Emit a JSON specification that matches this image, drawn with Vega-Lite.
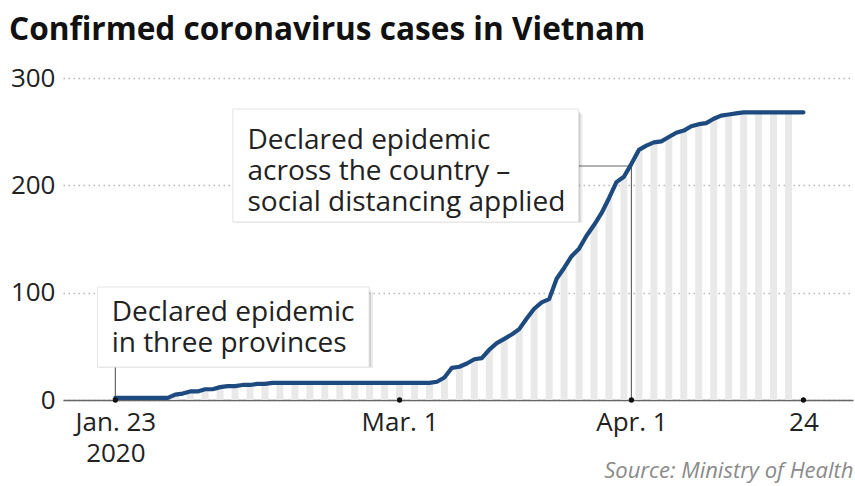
{
  "$schema": "https://vega.github.io/schema/vega-lite/v6.json",
  "width": 790,
  "height": 322,
  "padding": {"left": 5, "top": 15, "right": 2, "bottom": 12},
  "config": {
    "font": "Open Sans",
    "view": {"stroke": null},
    "axis": {"labelFont": "Open Sans", "titleFont": "Open Sans"}
  },
  "title": {
    "text": "Confirmed coronavirus cases in Vietnam",
    "anchor": "start",
    "frame": "bounds",
    "font": "Open Sans",
    "fontSize": 31.6,
    "fontWeight": "bold",
    "color": "#111111",
    "offset": 18,
    "dx": 4
  },
  "datasets": {
    "cases": [
      {"date": "2020/01/23", "value": 2}, {"date": "2020/01/24", "value": 2}, {"date": "2020/01/25", "value": 2},
      {"date": "2020/01/26", "value": 2}, {"date": "2020/01/27", "value": 2}, {"date": "2020/01/28", "value": 2},
      {"date": "2020/01/29", "value": 2}, {"date": "2020/01/30", "value": 2}, {"date": "2020/01/31", "value": 5},
      {"date": "2020/02/01", "value": 6}, {"date": "2020/02/02", "value": 8}, {"date": "2020/02/03", "value": 8},
      {"date": "2020/02/04", "value": 10}, {"date": "2020/02/05", "value": 10}, {"date": "2020/02/06", "value": 12},
      {"date": "2020/02/07", "value": 13}, {"date": "2020/02/08", "value": 13}, {"date": "2020/02/09", "value": 14},
      {"date": "2020/02/10", "value": 14}, {"date": "2020/02/11", "value": 15}, {"date": "2020/02/12", "value": 15},
      {"date": "2020/02/13", "value": 16}, {"date": "2020/02/14", "value": 16}, {"date": "2020/02/15", "value": 16},
      {"date": "2020/02/16", "value": 16}, {"date": "2020/02/17", "value": 16}, {"date": "2020/02/18", "value": 16},
      {"date": "2020/02/19", "value": 16}, {"date": "2020/02/20", "value": 16}, {"date": "2020/02/21", "value": 16},
      {"date": "2020/02/22", "value": 16}, {"date": "2020/02/23", "value": 16}, {"date": "2020/02/24", "value": 16},
      {"date": "2020/02/25", "value": 16}, {"date": "2020/02/26", "value": 16}, {"date": "2020/02/27", "value": 16},
      {"date": "2020/02/28", "value": 16}, {"date": "2020/02/29", "value": 16}, {"date": "2020/03/01", "value": 16},
      {"date": "2020/03/02", "value": 16}, {"date": "2020/03/03", "value": 16}, {"date": "2020/03/04", "value": 16},
      {"date": "2020/03/05", "value": 16}, {"date": "2020/03/06", "value": 17}, {"date": "2020/03/07", "value": 21},
      {"date": "2020/03/08", "value": 30}, {"date": "2020/03/09", "value": 31}, {"date": "2020/03/10", "value": 34},
      {"date": "2020/03/11", "value": 38}, {"date": "2020/03/12", "value": 39}, {"date": "2020/03/13", "value": 47},
      {"date": "2020/03/14", "value": 53}, {"date": "2020/03/15", "value": 57}, {"date": "2020/03/16", "value": 61},
      {"date": "2020/03/17", "value": 66}, {"date": "2020/03/18", "value": 76}, {"date": "2020/03/19", "value": 85},
      {"date": "2020/03/20", "value": 91}, {"date": "2020/03/21", "value": 94}, {"date": "2020/03/22", "value": 113},
      {"date": "2020/03/23", "value": 123}, {"date": "2020/03/24", "value": 134}, {"date": "2020/03/25", "value": 141},
      {"date": "2020/03/26", "value": 153}, {"date": "2020/03/27", "value": 163}, {"date": "2020/03/28", "value": 174},
      {"date": "2020/03/29", "value": 188}, {"date": "2020/03/30", "value": 203}, {"date": "2020/03/31", "value": 208},
      {"date": "2020/04/01", "value": 220}, {"date": "2020/04/02", "value": 233}, {"date": "2020/04/03", "value": 237},
      {"date": "2020/04/04", "value": 240}, {"date": "2020/04/05", "value": 241}, {"date": "2020/04/06", "value": 245},
      {"date": "2020/04/07", "value": 249}, {"date": "2020/04/08", "value": 251}, {"date": "2020/04/09", "value": 255},
      {"date": "2020/04/10", "value": 257}, {"date": "2020/04/11", "value": 258}, {"date": "2020/04/12", "value": 262},
      {"date": "2020/04/13", "value": 265}, {"date": "2020/04/14", "value": 266}, {"date": "2020/04/15", "value": 267},
      {"date": "2020/04/16", "value": 268}, {"date": "2020/04/17", "value": 268}, {"date": "2020/04/18", "value": 268},
      {"date": "2020/04/19", "value": 268}, {"date": "2020/04/20", "value": 268}, {"date": "2020/04/21", "value": 268},
      {"date": "2020/04/22", "value": 268}, {"date": "2020/04/23", "value": 268}, {"date": "2020/04/24", "value": 268}
    ],
    "leaders": [
      {"date": "2020/01/23", "date2": "2020/01/23", "value": 0, "value2": 30.7},
      {"date": "2020/04/01", "date2": "2020/04/01", "value": 0, "value2": 218},
      {"date": "2020/03/24 22:00", "date2": "2020/04/01", "value": 218, "value2": 218}
    ],
    "boxes": [
      {"date": "2020/01/20 15:00", "date2": "2020/02/25 22:00", "value": 30.7, "value2": 105.3},
      {"date": "2020/02/07 17:00", "date2": "2020/03/24 22:00", "value": 165.8, "value2": 271.1}
    ],
    "notes": [
      {"date": "2020/01/22 12:00", "value": 94.2, "label": "Declared epidemic\nin three provinces"},
      {"date": "2020/02/09 16:00", "value": 254.5, "label": "Declared epidemic\nacross the country –\nsocial distancing applied"}
    ],
    "ticks": [
      {"date": "2020/01/23", "value": 0}, {"date": "2020/03/01", "value": 0},
      {"date": "2020/04/01", "value": 0}, {"date": "2020/04/24", "value": 0}
    ]
  },
  "layer": [
    {
      "data": {"name": "cases"},
      "transform": [
        {"filter": "round((toDate(datum.date) - toDate('2020/01/23')) / 864e5) % 2 == 0 && toDate(datum.date) < toDate('2020/04/23')"}
      ],
      "mark": {"type": "bar", "color": "#e9e9e9", "width": 7},
      "encoding": {
        "x": {
          "field": "date", "type": "temporal",
          "scale": {"domain": [{"year": 2020, "month": 1, "date": 16, "hours": 16}, {"year": 2020, "month": 4, "date": 29, "hours": 23}]},
          "axis": {
            "values": [
              {"year": 2020, "month": 1, "date": 23},
              {"year": 2020, "month": 3, "date": 1},
              {"year": 2020, "month": 4, "date": 1},
              {"year": 2020, "month": 4, "date": 24}
            ],
            "labelExpr": "month(datum.value) == 0 ? ['Jan. 23', '2020'] : month(datum.value) == 2 ? 'Mar. 1' : date(datum.value) == 1 ? 'Apr. 1' : '24'",
            "ticks": false,
            "grid": false,
            "domainColor": "#666666",
            "domainWidth": 1.5,
            "labelFontSize": 26,
            "labelColor": "#222222",
            "labelPadding": 9,
            "labelLineHeight": 31,
            "labelFlush": false,
            "labelOverlap": false,
            "title": "Source: Ministry of Health",
            "titleAnchor": "end",
            "titleAlign": "right",
            "titleBaseline": "alphabetic",
            "titleY": 77,
            "titleFontSize": 22,
            "titleFontStyle": "italic",
            "titleFontWeight": "normal",
            "titleColor": "#8a8a8a"
          }
        },
        "y": {
          "field": "value", "type": "quantitative",
          "scale": {"domain": [0, 300], "nice": false},
          "axis": {
            "values": [0, 100, 200, 300],
            "title": null,
            "domain": false,
            "ticks": false,
            "grid": true,
            "gridDash": [1.5, 3.5],
            "gridColor": "#b8b8b8",
            "gridWidth": 1.5,
            "labelFontSize": 26,
            "labelColor": "#222222",
            "labelPadding": 8,
            "minExtent": 58,
            "maxExtent": 58
          }
        }
      }
    },
    {
      "data": {"name": "leaders"},
      "mark": {"type": "rule", "color": "#666666", "strokeWidth": 1.2},
      "encoding": {
        "x": {"field": "date", "type": "temporal"},
        "x2": {"field": "date2"},
        "y": {"field": "value", "type": "quantitative"},
        "y2": {"field": "value2"}
      }
    },
    {
      "data": {"name": "cases"},
      "mark": {"type": "line", "color": "#1d4a7f", "strokeWidth": 4.2, "strokeJoin": "round", "strokeCap": "round"},
      "encoding": {
        "x": {"field": "date", "type": "temporal"},
        "y": {"field": "value", "type": "quantitative"}
      }
    },
    {
      "data": {"name": "boxes"},
      "mark": {"type": "rect", "color": "#000000", "opacity": 0.08, "xOffset": 1, "x2Offset": 4, "yOffset": 1, "y2Offset": 5},
      "encoding": {
        "x": {"field": "date", "type": "temporal"},
        "x2": {"field": "date2"},
        "y": {"field": "value", "type": "quantitative"},
        "y2": {"field": "value2"}
      }
    },
    {
      "data": {"name": "boxes"},
      "mark": {"type": "rect", "color": "#000000", "opacity": 0.12, "xOffset": 0, "x2Offset": 2, "yOffset": 0, "y2Offset": 3},
      "encoding": {
        "x": {"field": "date", "type": "temporal"},
        "x2": {"field": "date2"},
        "y": {"field": "value", "type": "quantitative"},
        "y2": {"field": "value2"}
      }
    },
    {
      "data": {"name": "boxes"},
      "mark": {"type": "rect", "fill": "#ffffff", "stroke": "#e4e4e4", "strokeWidth": 1},
      "encoding": {
        "x": {"field": "date", "type": "temporal"},
        "x2": {"field": "date2"},
        "y": {"field": "value", "type": "quantitative"},
        "y2": {"field": "value2"}
      }
    },
    {
      "data": {"name": "notes"},
      "mark": {"type": "text", "align": "left", "baseline": "top", "fontSize": 28, "lineHeight": 31, "lineBreak": "\n", "color": "#222222", "font": "Open Sans"},
      "encoding": {
        "x": {"field": "date", "type": "temporal"},
        "y": {"field": "value", "type": "quantitative"},
        "text": {"field": "label", "type": "nominal"}
      }
    },
    {
      "data": {"name": "ticks"},
      "mark": {"type": "point", "filled": true, "color": "#111111", "size": 28, "opacity": 1},
      "encoding": {
        "x": {"field": "date", "type": "temporal"},
        "y": {"field": "value", "type": "quantitative"}
      }
    }
  ]
}
